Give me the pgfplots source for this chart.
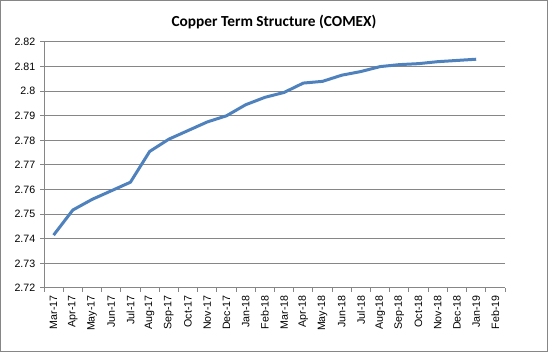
\documentclass[border=0pt]{standalone}
\usepackage{pgfplots}
\pgfplotsset{compat=1.18}
\usepackage{fontspec}
\setmainfont{Liberation Sans}
\newfontfamily\titlefont{Carlito}
\definecolor{exblue}{HTML}{4F81BD}
\definecolor{gridgray}{HTML}{868686}
\begin{document}
\begin{tikzpicture}
\useasboundingbox (0,0) rectangle (411pt,264pt);
\draw[gridgray, line width=0.75pt] (0.375pt,0.375pt) rectangle (410.625pt,263.625pt);
\node[font=\titlefont\bfseries\fontsize{11.5}{13}\selectfont] at (205.5pt,247.5pt) {Copper Term Structure (COMEX)};
\begin{axis}[
  at={(33pt,48pt)}, anchor=south west,
  scale only axis, width=345.75pt, height=184.5pt,
  xmin=0.5, xmax=24.5, ymin=2.72, ymax=2.82,
  ytick={2.72,2.73,...,2.82},
  xtick={0.5,1.5,...,24.5},
  x tick label as interval,
  xticklabels={Mar-17,Apr-17,May-17,Jun-17,Jul-17,Aug-17,Sep-17,Oct-17,Nov-17,Dec-17,Jan-18,Feb-18,Mar-18,Apr-18,May-18,Jun-18,Jul-18,Aug-18,Sep-18,Oct-18,Nov-18,Dec-18,Jan-19,Feb-19},
  x tick label style={rotate=90, anchor=east, font=\fontsize{8}{9}\selectfont, xshift=1pt},
  y tick label style={font=\fontsize{8}{9}\selectfont, /pgf/number format/fixed, /pgf/number format/precision=2},
  /pgf/number format/assume math mode=true,
  axis x line=bottom, axis y line=left,
  axis line style={-, gridgray, line width=0.75pt},
  tick style={gridgray, line width=0.75pt},
  tick align=outside, major tick length=3pt,
  ymajorgrids, grid style={gridgray, line width=0.75pt},
  clip=false,
]
\addplot[exblue, line width=2.25pt, mark=none] coordinates {
(1,2.7415) (2,2.7517) (3,2.7560) (4,2.7595) (5,2.7630) (6,2.7755) (7,2.7805) (8,2.7840) (9,2.7875) (10,2.7900) (11,2.7945) (12,2.7975) (13,2.7995) (14,2.8033) (15,2.8040) (16,2.8065) (17,2.8080) (18,2.8100) (19,2.8108) (20,2.8112) (21,2.8120) (22,2.8125) (23,2.8130)
};
\end{axis}
\end{tikzpicture}
\end{document}
